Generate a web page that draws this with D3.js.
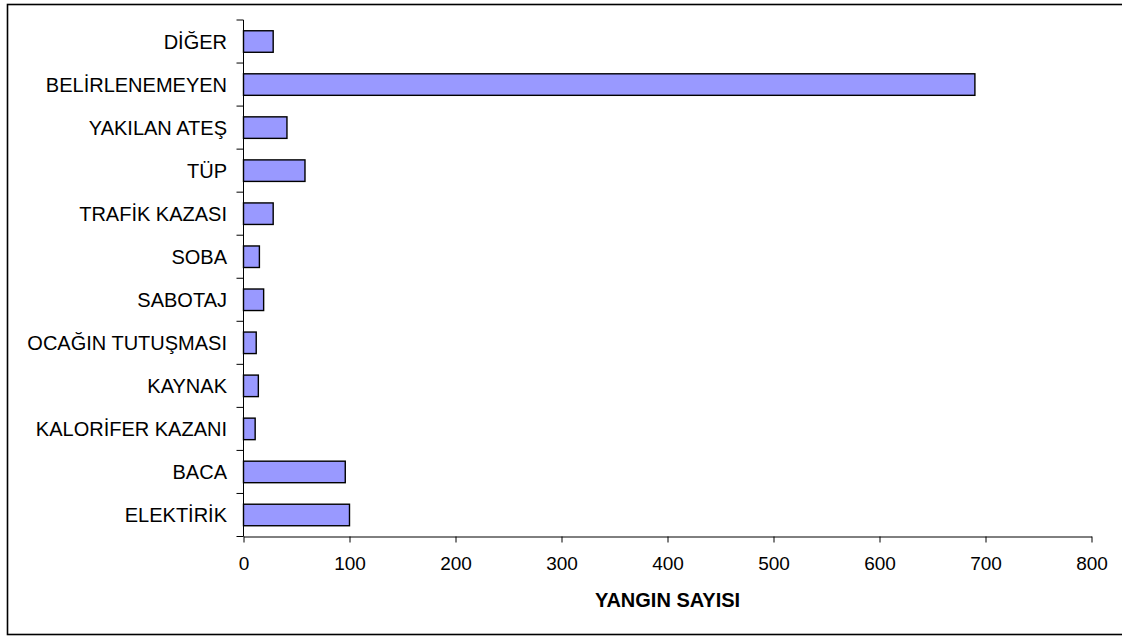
<!DOCTYPE html>
<html>
<head>
<meta charset="utf-8">
<script src="https://cdn.jsdelivr.net/npm/d3@7"></script>
<style>
  html, body { margin: 0; padding: 0; background: #fff; }
  svg { display: block; }
  text { font-family: "Liberation Sans", Arial, sans-serif; fill: #000; }
</style>
</head>
<body>
<svg id="chart" width="1122" height="637"></svg>
<script>
const categories = ["DİĞER", "BELİRLENEMEYEN", "YAKILAN ATEŞ", "TÜP", "TRAFİK KAZASI", "SOBA", "SABOTAJ", "OCAĞIN TUTUŞMASI", "KAYNAK", "KALORİFER KAZANI", "BACA", "ELEKTİRİK"];
const values = [28, 690, 41, 58, 28, 15, 19, 12, 14, 11, 96, 100];
const xTicks = [0, 100, 200, 300, 400, 500, 600, 700, 800];
const xTitle = "YANGIN SAYISI";

const svg = d3.select("#chart");

// outer frame
svg.append("rect")
  .attr("x", 7.5).attr("y", 4.5)
  .attr("width", 1130).attr("height", 630)
  .attr("fill", "none").attr("stroke", "#000").attr("stroke-width", 1.6);

const x = d3.scaleLinear().domain([0, 800]).range([243.5, 1091.5]);
const y = d3.scaleBand().domain(categories).range([20, 536.5]).paddingInner(0.5).paddingOuter(0.25);

// bars
svg.append("g").selectAll("rect")
  .data(categories.map((c, i) => ({ c, v: values[i] })))
  .join("rect")
  .attr("x", x(0))
  .attr("y", d => y(d.c))
  .attr("width", d => x(d.v) - x(0))
  .attr("height", y.bandwidth())
  .attr("fill", "#9999FF")
  .attr("stroke", "#000")
  .attr("stroke-width", 1.4);

// x axis
const xAxis = svg.append("g")
  .attr("transform", `translate(0,${536.5})`)
  .call(d3.axisBottom(x).tickValues(xTicks).tickSize(6).tickSizeOuter(0).tickPadding(14));
xAxis.select(".domain").attr("stroke", "#000");
xAxis.selectAll(".tick line").attr("stroke", "#000");
xAxis.selectAll("text").attr("font-size", 19).attr("font-family", "Liberation Sans, Arial, sans-serif");

// y axis line
const yTop = 20, yBot = 536.5;
svg.append("line")
  .attr("x1", x(0)).attr("x2", x(0)).attr("y1", yTop).attr("y2", yBot)
  .attr("stroke", "#000");
// category boundary ticks
const step = y.step();
const bounds = d3.range(categories.length + 1).map(i => yTop + i * step);
svg.append("g").selectAll("line")
  .data(bounds)
  .join("line")
  .attr("x1", x(0) - 7).attr("x2", x(0))
  .attr("y1", d => d).attr("y2", d => d)
  .attr("stroke", "#000");

// category labels
svg.append("g").selectAll("text")
  .data(categories)
  .join("text")
  .attr("x", 227)
  .attr("y", d => y(d) + y.bandwidth() / 2)
  .attr("dy", "0.35em")
  .attr("text-anchor", "end")
  .attr("font-size", 20)
  .text(d => d);

// x title
svg.append("text")
  .attr("x", (x(0) + x(800)) / 2)
  .attr("y", 607)
  .attr("text-anchor", "middle")
  .attr("font-size", 20)
  .attr("font-weight", "bold")
  .text(xTitle);
</script>
</body>
</html>
